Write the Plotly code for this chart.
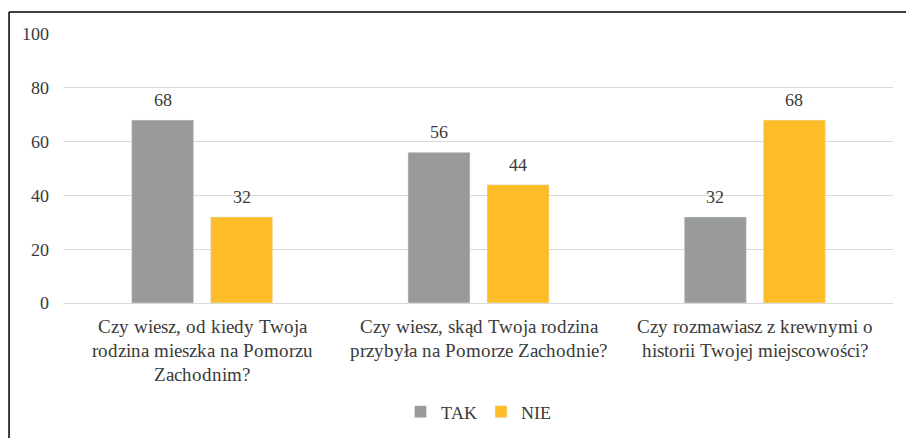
import glob
import base64
import plotly.graph_objects as go

categories = [
    "Czy wiesz, od kiedy Twoja<br>rodzina mieszka na Pomorzu<br>Zachodnim?",
    "Czy wiesz, skąd Twoja rodzina<br>przybyła na Pomorze Zachodnie?<br> ",
    "Czy rozmawiasz z krewnymi o<br>historii Twojej miejscowości?<br> ",
]
tak = [68, 56, 32]
nie = [32, 44, 68]
y_ticks = [0, 20, 40, 60, 80, 100]

GRAY = "#999b9b"
YELLOW = "#fdbd28"
TXT = "#3a3a3a"

# use the locally installed Liberation Serif file (embedded as @font-face) if it can be found
font_files = []
for pat in ("/usr/share/fonts/**/LiberationSerif-Regular.ttf",
            "/usr/local/share/fonts/**/LiberationSerif-Regular.ttf",
            "/usr/share/fonts/**/Tinos-Regular.ttf"):
    font_files += glob.glob(pat, recursive=True)
post = "document.body.style.margin='0';document.body.style.overflow='hidden';"
if font_files:
    with open(font_files[0], "rb") as fh:
        b64 = base64.b64encode(fh.read()).decode("ascii")
    FONT = "EmbSerif, Liberation Serif, Times New Roman, serif"
    post += ("var s=document.createElement('style');s.textContent=\"@font-face{font-family:'EmbSerif';"
             "src:url(data:font/ttf;base64," + b64 + ") format('truetype');}\";document.head.appendChild(s);"
             "document.fonts.load('18px EmbSerif').then(function(){Plotly.relayout(document.getElementById('{plot_id}'),{});});")
else:
    FONT = "Liberation Serif, Times New Roman, serif"

fig = go.Figure()
fig.add_trace(go.Bar(name="TAK", x=categories, y=tak, marker_color=GRAY))
fig.add_trace(go.Bar(name="NIE", x=categories, y=nie, marker_color=YELLOW))

# value labels
for vals, shift in ((tak, -39.5), (nie, 39.5)):
    for c, v in zip(categories, vals):
        fig.add_annotation(x=c, y=v, xref="x", yref="y", text=str(v), showarrow=False,
                           xshift=shift, yshift=20, font=dict(family=FONT, size=18, color=TXT))

# frame (left + top edges)
fig.add_shape(type="line", xref="paper", yref="paper", x0=-0.0663, x1=1.2, y0=1.0815, y1=1.0815,
              line=dict(color="black", width=1.5))
fig.add_shape(type="line", xref="paper", yref="paper", x0=-0.0663, x1=-0.0663, y0=1.0815, y1=-0.6,
              line=dict(color="black", width=1.5))

fig.update_layout(
    width=906, height=438,
    margin=dict(l=64, r=13, t=33.5, b=134.5, autoexpand=False),
    paper_bgcolor="white", plot_bgcolor="white",
    barmode="group", bargap=0.428, bargroupgap=0.215,
    font=dict(family=FONT, size=18, color=TXT),
    showlegend=True,
    legend=dict(orientation="h", x=0.5, xanchor="center", y=-0.405, yanchor="middle",
                font=dict(family=FONT, size=18, color=TXT), traceorder="normal"),
    xaxis=dict(showgrid=False, showline=False, ticks="", automargin=False,
               tickfont=dict(family=FONT, size=18.5, color=TXT), ticklabelstandoff=10),
    yaxis=dict(range=[0, 100], tickvals=y_ticks, showgrid=True, gridcolor="#d9d9d9", gridwidth=1,
               zeroline=True, zerolinecolor="#d9d9d9", zerolinewidth=1, ticks="", ticklabelstandoff=14,
               showline=False, automargin=False, tickfont=dict(family=FONT, size=18, color=TXT)),
)

fig.write_html("out.html", config={"displayModeBar": False}, post_script=post)
